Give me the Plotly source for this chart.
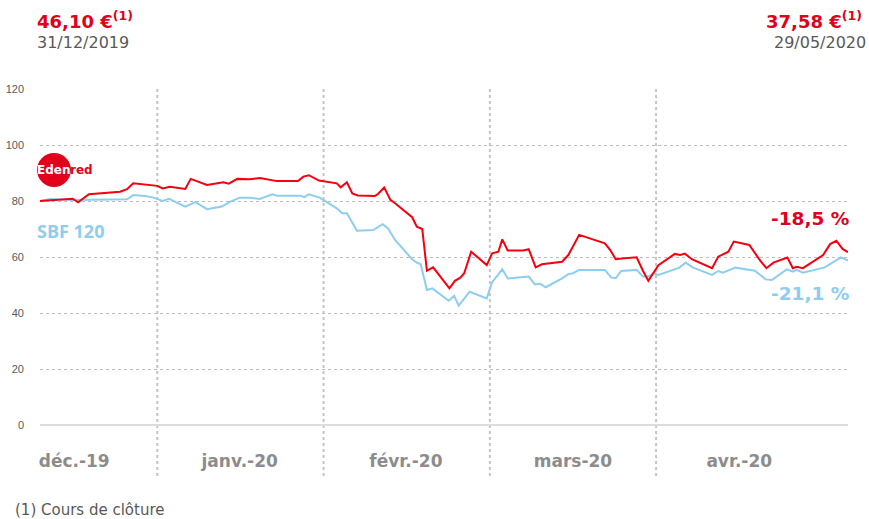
import plotly.graph_objects as go

# ---------------- data ----------------
# x = trading-session index (0 = 31/12/2019 ... 104 = 29/05/2020), y = rebased value
edenred_x = [0, 4.2, 4.9, 6.3, 10.3, 11.2, 12.0, 15.1, 15.8, 16.7, 18.7, 19.4, 21.5, 23.6, 24.3,
             25.4, 27.0, 28.3, 30.5, 33.2, 33.9, 34.6, 35.9, 38.2, 38.7, 39.5, 40.2, 40.9, 43.1, 43.5,
             44.3, 45.1, 45.7, 47.9, 48.5, 49.2, 49.8, 50.6, 52.7, 53.4, 54.1, 54.6, 55.5, 57.5, 58.2,
             59.0, 59.5, 60.2, 62.2, 62.9, 63.8, 64.6, 67.2, 68.0, 69.4, 72.7, 73.4, 74.1, 74.9, 76.8,
             77.6, 78.3, 79.6, 81.7, 82.4, 83.0, 83.9, 86.5, 87.3, 88.6, 89.3, 91.3, 92.7, 93.5, 94.4,
             96.2, 96.9, 97.4, 98.2, 100.8, 101.7, 102.5, 103.3, 104.0]
edenred_y = [80.0, 80.8, 79.5, 82.4, 83.3, 84.2, 86.3, 85.4, 84.5, 85.1, 84.3, 87.9, 85.7, 86.7, 86.2,
             87.9, 87.8, 88.2, 87.1, 87.1, 88.7, 89.2, 87.3, 86.3, 84.9, 86.7, 82.7, 82.0, 81.8, 82.5,
             84.8, 80.4, 79.2, 74.2, 70.8, 70.0, 55.1, 56.3, 48.8, 51.5, 52.6, 54.2, 61.9, 57.1, 61.3,
             61.9, 66.3, 62.3, 62.3, 62.8, 56.3, 57.4, 58.3, 60.7, 67.9, 64.9, 62.5, 59.2, 59.5, 59.9,
             55.1, 51.5, 57.1, 61.1, 60.7, 61.2, 59.2, 56.0, 60.1, 61.9, 65.5, 64.3, 58.7, 56.0, 58.0,
             59.8, 56.0, 56.5, 56.0, 60.7, 64.6, 65.8, 62.9, 61.7]

sbf_x = [0, 1.3, 4.2, 11.2, 12.0, 13.5, 14.5, 15.8, 16.6, 18.7, 20.0, 21.5, 23.4, 24.5, 25.7,
         27.0, 28.3, 29.9, 30.5, 33.5, 34.0, 34.6, 36.0, 38.2, 38.9, 39.5, 40.8, 42.9, 44.1, 44.8,
         45.7, 47.9, 48.5, 49.0, 49.8, 50.5, 52.6, 53.3, 53.9, 54.4, 55.3, 57.5, 58.2, 59.5, 60.2,
         62.9, 63.7, 64.4, 65.1, 67.2, 68.0, 68.6, 69.4, 72.7, 73.5, 74.1, 74.8, 76.8, 77.6, 78.3,
         79.0, 79.6, 82.3, 83.1, 84.0, 86.5, 87.3, 87.9, 89.5, 92.0, 93.4, 94.2, 96.1, 96.9, 97.4,
         98.2, 101.0, 103.1, 104.0]
sbf_y = [80.0, 80.7, 80.4, 80.6, 82.1, 81.8, 81.3, 80.0, 80.8, 78.0, 79.6, 77.1, 78.0, 79.8, 81.2,
         81.2, 80.7, 82.4, 81.9, 81.9, 81.4, 82.4, 81.2, 77.4, 75.6, 75.6, 69.4, 69.6, 71.7, 70.2,
         66.1, 59.2, 58.0, 57.4, 48.2, 48.8, 44.4, 46.1, 42.6, 44.4, 47.6, 45.2, 51.0, 55.6, 52.3,
         53.0, 50.2, 50.4, 49.2, 52.4, 53.9, 54.2, 55.4, 55.4, 52.7, 52.4, 55.0, 55.4, 53.0, 53.0,
         54.2, 53.6, 56.2, 58.0, 56.3, 53.6, 55.0, 54.4, 56.2, 55.1, 52.0, 51.8, 55.6, 54.8, 55.4,
         54.4, 56.3, 59.9, 58.7]

month_labels = ["déc.-19", "janv.-20", "févr.-20", "mars-20", "avr.-20"]
month_centers = [4.4, 25.7, 47.1, 68.6, 90.0]
month_bounds = [15.1, 36.5, 57.9, 79.3]
y_ticks = [0, 20, 40, 60, 80, 100, 120]

RED = "#f5000f"
RED_TXT = "#e2001a"
BLUE = "#8ecdf0"
GREY = "#595959"

fig = go.Figure()
fig.add_trace(go.Scatter(x=sbf_x, y=sbf_y, mode="lines", name="SBF 120",
                         line=dict(color=BLUE, width=2), hoverinfo="skip"))
fig.add_trace(go.Scatter(x=edenred_x, y=edenred_y, mode="lines", name="Edenred",
                         line=dict(color=RED, width=2), hoverinfo="skip"))


def px(x):
    return (x - 40) / 808


def py(y):
    return (425 - y) / 336


shapes = []
for b in month_bounds:
    shapes.append(dict(type="line", xref="x", yref="paper", x0=b, x1=b, y0=1.0, y1=py(476),
                       line=dict(color="#c4c4c4", width=2, dash="dot"), layer="below"))
# Edenred logo circle
shapes.append(dict(type="circle", xref="paper", yref="paper",
                   x0=px(37), x1=px(71), y0=py(187), y1=py(153),
                   fillcolor=RED_TXT, line=dict(width=0)))

ann = [
    dict(text="<b>46,10 €</b><sup><b>(1)</b></sup>", x=px(35), y=py(20), xanchor="left",
         font=dict(family="DejaVu Sans", size=18, color=RED_TXT)),
    dict(text="31/12/2019", x=px(35), y=py(42), xanchor="left",
         font=dict(family="DejaVu Sans", size=16, color=GREY)),
    dict(text="<b>37,58 €</b><sup><b>(1)</b></sup>", x=px(864), y=py(20), xanchor="right",
         font=dict(family="DejaVu Sans", size=18, color=RED_TXT)),
    dict(text="29/05/2020", x=px(868), y=py(42), xanchor="right",
         font=dict(family="DejaVu Sans", size=16, color=GREY)),
    dict(text="<b>SBF 120</b>", x=px(35), y=py(231), xanchor="left",
         font=dict(family="Open Sans", size=18, color=BLUE)),
    dict(text="<b>-18,5 %</b>", x=px(851), y=py(218), xanchor="right",
         font=dict(family="DejaVu Sans", size=18.5, color=RED_TXT)),
    dict(text="<b>-21,1 %</b>", x=px(851), y=py(293), xanchor="right",
         font=dict(family="DejaVu Sans", size=18.5, color=BLUE)),
    dict(text="<b>Eden</b>", x=px(35), y=py(170), xanchor="left",
         font=dict(family="DejaVu Sans", size=12, color="white")),
    dict(text="<b>red</b>", x=px(68), y=py(170), xanchor="left",
         font=dict(family="DejaVu Sans", size=12, color=RED_TXT)),
    dict(text="(1) Cours de clôture", x=px(13), y=py(510), xanchor="left",
         font=dict(family="DejaVu Sans", size=15, color=GREY)),
]
for a in ann:
    a.update(xref="paper", yref="paper", yanchor="middle", showarrow=False)

fig.update_layout(
    width=869, height=519,
    margin=dict(l=40, r=21, t=89, b=94),
    paper_bgcolor="white", plot_bgcolor="white",
    showlegend=False,
    shapes=shapes, annotations=ann,
    xaxis=dict(range=[0, 104], showgrid=False, zeroline=False, showline=False,
               tickvals=month_centers, ticktext=month_labels, ticks="",
               ticklabelstandoff=24, automargin=False,
               tickfont=dict(family="DejaVu Sans", size=17, color="#8c8c8c", weight="bold")),
    yaxis=dict(range=[0, 120], tickvals=y_ticks, showgrid=True, griddash="dot",
               gridcolor="#bdbdbd", gridwidth=1, zeroline=True, zerolinecolor="#dcdcdc",
               zerolinewidth=2, showline=False, ticks="", ticklabelstandoff=15, automargin=False,
               tickfont=dict(family="Liberation Sans", size=11, color=GREY)),
)

fig.write_html("out.html", config={"displayModeBar": False},
               post_script="document.body.style.margin='0';document.body.style.overflow='hidden';")
